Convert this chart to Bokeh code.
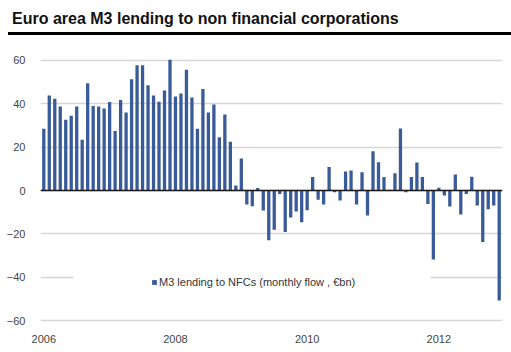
from bokeh.plotting import figure
from bokeh.models import Range1d, Span, BoxAnnotation, Legend, LegendItem, FixedTicker, ColumnDataSource, Div
from bokeh.layouts import column
from bokeh.embed import file_html
from bokeh.resources import INLINE

title_text = "Euro area M3 lending to non financial corporations"
series_name = "M3 lending to NFCs (monthly flow , €bn)"
first_year = 2006
months = [f"{y}-{m:02d}" for y in range(2006, 2013) for m in range(1, 13)]
values = [
    28.5, 43.8, 42.3, 38.8, 32.6, 34.5, 38.8, 23.4, 49.5, 39.0, 38.8, 37.8,
    40.9, 27.5, 41.8, 36.0, 51.4, 57.8, 57.8, 48.6, 43.8, 41.0, 46.1, 60.4,
    43.4, 44.8, 55.7, 42.9, 28.5, 46.8, 36.0, 39.7, 24.6, 35.1, 22.5, 2.3,
    14.8, -6.5, -7.3, 1.2, -9.2, -23.0, -18.1, -1.6, -19.2, -12.5, -9.7, -14.6,
    -9.1, 6.2, -4.3, -6.5, 10.8, -0.8, -4.6, 8.8, 9.2, -6.5, 8.4, -11.5,
    18.1, 13.0, 6.2, 0.3, 8.0, 28.6, -0.8, 6.2, 12.9, 6.2, -6.2, -31.8,
    1.3, -2.3, -7.4, 7.4, -11.1, -1.6, 6.3, -6.9, -23.8, -8.7, -6.9, -50.8,
]
year_ticks = [2006, 2008, 2010, 2012]
y_ticks = [-60, -40, -20, 0, 20, 40, 60]

xpos = []
for mstr in months:
    y, m = mstr.split("-")
    xpos.append((int(y) - first_year) * 12 + (int(m) - 1) + 0.5)

src = ColumnDataSource(dict(x=xpos, top=values, month=months))

header = Div(
    text=(
        '<div style="margin-left:8px;width:503px;box-sizing:border-box;padding:10px 0 4px 4px;'
        'border-bottom:3px solid #000;font-family:\'Liberation Sans\',Arial,sans-serif;'
        'font-weight:bold;font-size:16px;line-height:18px;color:#111;white-space:nowrap;">'
        + title_text + '</div>'
    ),
    width=511, height=35, margin=(0, 0, 0, 0),
)

p = figure(width=511, height=317, output_backend="svg", toolbar_location=None,
           x_range=Range1d(-0.1, 84.1), y_range=Range1d(-60.92, 60.92),
           min_border_left=40, min_border_right=9, min_border_top=23, min_border_bottom=30,
           margin=(0, 0, 0, 0))
p.outline_line_color = None
p.background_fill_color = "white"
p.border_fill_color = "white"

r = p.vbar(x="x", top="top", bottom=0, width=0.6, source=src,
           fill_color="#3a5b9a", line_color=None)

# x axis
label_shift = 0.5
tick_pos = [(yr - first_year) * 12 + label_shift for yr in year_ticks]
p.xaxis.ticker = FixedTicker(ticks=tick_pos)
p.xaxis.major_label_overrides = {t: str(yr) for t, yr in zip(tick_pos, year_ticks)}
p.xaxis.axis_line_color = None
p.xaxis.major_tick_line_color = None
p.xaxis.minor_tick_line_color = None
p.xaxis.major_label_standoff = 6
p.xaxis.major_label_text_font = "Liberation Sans"
p.xaxis.major_label_text_font_size = "11px"
p.xaxis.major_label_text_color = "#444444"
p.xgrid.grid_line_color = None

# y axis
p.yaxis.ticker = FixedTicker(ticks=y_ticks)
p.yaxis.axis_line_color = None
p.yaxis.major_tick_line_color = None
p.yaxis.minor_tick_line_color = None
p.yaxis.major_label_standoff = 9
p.yaxis.major_label_text_font = "Liberation Sans"
p.yaxis.major_label_text_font_size = "11px"
p.yaxis.major_label_text_color = "#444444"
p.ygrid.grid_line_color = "#d6d6d6"
p.ygrid.grid_line_width = 1.5

p.add_layout(Span(location=0, dimension="width", line_color="#1a1a1a", line_width=1.5))

# white mask behind legend
p.add_layout(BoxAnnotation(left=5.9, right=71.0, bottom=-42, top=-38,
                           fill_color="white", fill_alpha=1, line_color=None))

legend = Legend(items=[LegendItem(label=series_name, renderers=[r])],
                location=(109, 32.3), glyph_width=6, glyph_height=6,
                label_standoff=2, padding=2, margin=0, spacing=0,
                border_line_alpha=0, background_fill_color="white", background_fill_alpha=1,
                label_text_font="Liberation Sans", label_text_font_size="11px",
                label_text_color="#333333", label_height=12)
p.add_layout(legend, "center")

layout = column(header, p, spacing=0, margin=(0, 0, 0, 0))
open("out.html", "w").write(file_html(layout, INLINE))
